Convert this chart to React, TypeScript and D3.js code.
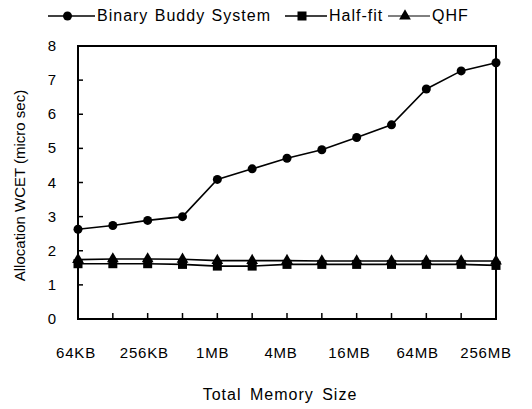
import * as d3 from 'd3';

const categories = ['64KB', '128KB', '256KB', '512KB', '1MB', '2MB', '4MB', '8MB', '16MB', '32MB', '64MB', '128MB', '256MB'];
const tickLabels = ['64KB', '256KB', '1MB', '4MB', '16MB', '64MB', '256MB'];
const yTicks = [0, 1, 2, 3, 4, 5, 6, 7, 8];

const buddy = [2.63, 2.74, 2.89, 3.0, 4.09, 4.4, 4.71, 4.96, 5.32, 5.69, 6.74, 7.27, 7.51];
const halfFit = [1.62, 1.62, 1.62, 1.6, 1.55, 1.55, 1.6, 1.6, 1.6, 1.6, 1.6, 1.6, 1.57];
const qhf = [1.74, 1.76, 1.76, 1.75, 1.71, 1.71, 1.71, 1.7, 1.7, 1.7, 1.7, 1.7, 1.7];

const W = 532;
const H = 409;
const margin = { top: 46, right: 36, bottom: 90, left: 78 };
const font = "'Liberation Sans', Arial, sans-serif";

type Shape = 'circle' | 'square' | 'triangle';

function Marker({ x, y, shape }: { x: number; y: number; shape: Shape }) {
  if (shape === 'circle') return <circle cx={x} cy={y} r={4.5} fill="#000" />;
  if (shape === 'square') return <rect x={x - 4.5} y={y - 4.5} width={9} height={9} fill="#000" />;
  const p = d3.symbol(d3.symbolTriangle, 60)()!;
  return <path d={p} transform={`translate(${x},${y})`} fill="#000" />;
}

export default function App() {
  const innerW = W - margin.left - margin.right;
  const innerH = H - margin.top - margin.bottom;
  const x = d3.scalePoint<string>().domain(categories).range([margin.left, margin.left + innerW]);
  // printed labels drift a little left of the data points
  const xLabel = d3
    .scalePoint<string>()
    .domain(tickLabels)
    .range([margin.left - 2, margin.left + innerW - 10]);
  const y = d3.scaleLinear().domain([0, 8]).range([margin.top + innerH, margin.top]);
  const line = d3
    .line<number>()
    .x((_, i) => x(categories[i])!)
    .y((d) => y(d));

  const series: { name: string; values: number[]; shape: Shape }[] = [
    { name: 'Half-fit', values: halfFit, shape: 'square' },
    { name: 'QHF', values: qhf, shape: 'triangle' },
    { name: 'Binary Buddy System', values: buddy, shape: 'circle' },
  ];

  const legend = [
    { name: 'Binary Buddy System', shape: 'circle' as Shape, x0: 48, x1: 95, wide: true },
    { name: 'Half-fit', shape: 'square' as Shape, x0: 285, x1: 327, wide: false },
    { name: 'QHF', shape: 'triangle' as Shape, x0: 388, x1: 430, wide: false, thin: true },
  ];

  return (
    <svg width={W} height={H} style={{ display: 'block', position: 'absolute', left: 0, top: 0, background: '#fff' }}>
      <rect width={W} height={H} fill="#fff" />
      {legend.map((l) => (
        <g key={l.name}>
          <line x1={l.x0} x2={l.x1} y1={16} y2={16} stroke="#000" strokeWidth={l.thin ? 1 : 1.5} />
          <Marker x={(l.x0 + l.x1) / 2 - 4} y={16} shape={l.shape} />
          <text
            x={l.x1 + 2}
            y={21}
            fontFamily={font}
            fontSize={16}
            letterSpacing={1}
            wordSpacing={l.wide ? 1 : 0}
          >
            {l.name}
          </text>
        </g>
      ))}

      {series.map((s) => (
        <g key={s.name}>
          <path d={line(s.values)!} fill="none" stroke="#000" strokeWidth={1.6} />
          {s.values.map((v, i) => (
            <Marker key={i} x={x(categories[i])!} y={y(v)} shape={s.shape} />
          ))}
        </g>
      ))}

      <rect
        x={margin.left}
        y={margin.top}
        width={innerW}
        height={innerH}
        fill="none"
        stroke="#000"
        strokeWidth={2}
      />
      {yTicks.slice(1, -1).map((t) => (
        <line key={t} x1={margin.left} x2={margin.left + 5} y1={y(t)} y2={y(t)} stroke="#000" strokeWidth={1.5} />
      ))}
      {categories.slice(1, -1).map((c) => (
        <line
          key={c}
          x1={x(c)!}
          x2={x(c)!}
          y1={margin.top + innerH}
          y2={margin.top + innerH - 6}
          stroke="#000"
          strokeWidth={1.5}
        />
      ))}
      {yTicks.map((t) => (
        <text key={t} x={56} y={y(t) + 5} textAnchor="end" fontFamily={font} fontSize={15}>
          {t}
        </text>
      ))}
      {tickLabels.map((c) => (
        <text
          key={c}
          x={xLabel(c)!}
          y={margin.top + innerH + 39}
          textAnchor="middle"
          fontFamily={font}
          fontSize={15}
          letterSpacing={0.8}
        >
          {c}
        </text>
      ))}
      <text
        x={280}
        y={margin.top + innerH + 81}
        textAnchor="middle"
        fontFamily={font}
        fontSize={16}
        letterSpacing={1}
        wordSpacing={3}
      >
        Total Memory Size
      </text>
      <text
        transform={`translate(25,${margin.top + innerH / 2 + 3}) rotate(-90)`}
        textAnchor="middle"
        fontFamily={font}
        fontSize={15}
      >
        Allocation WCET (micro sec)
      </text>
    </svg>
  );
}
